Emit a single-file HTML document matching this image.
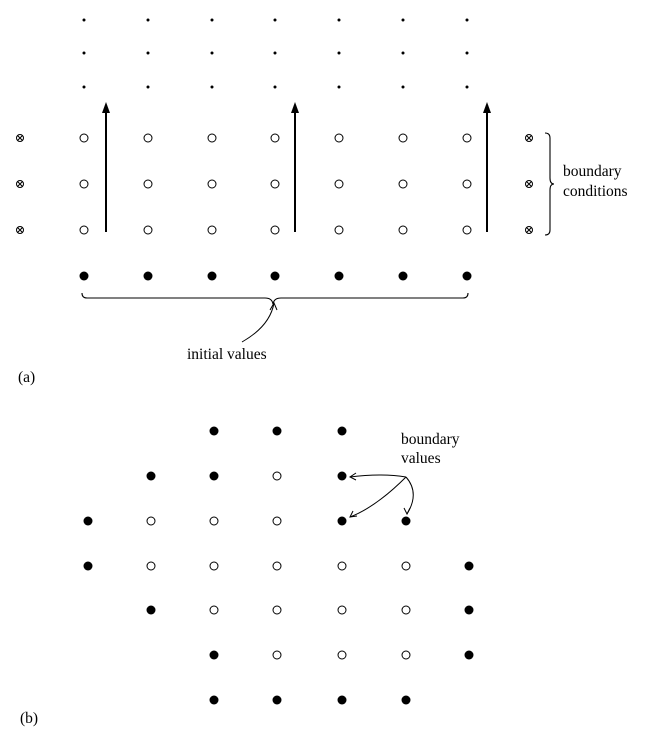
<!DOCTYPE html>
<html><head><style>body{margin:0;background:#fff}svg{display:block}text{font-family:"Liberation Serif","Times New Roman",serif;font-size:15.5px;fill:#000}</style></head>
<body>
<svg width="654" height="745" viewBox="0 0 654 745" xmlns="http://www.w3.org/2000/svg">
<g id="a" fill="#000">
<g>
<circle cx="84" cy="20" r="1.5"/><circle cx="148" cy="20" r="1.5"/><circle cx="212" cy="20" r="1.5"/><circle cx="275" cy="20" r="1.5"/><circle cx="339" cy="20" r="1.5"/><circle cx="403" cy="20" r="1.5"/><circle cx="467" cy="20" r="1.5"/>
<circle cx="84" cy="53" r="1.5"/><circle cx="148" cy="53" r="1.5"/><circle cx="212" cy="53" r="1.5"/><circle cx="275" cy="53" r="1.5"/><circle cx="339" cy="53" r="1.5"/><circle cx="403" cy="53" r="1.5"/><circle cx="467" cy="53" r="1.5"/>
<circle cx="84" cy="87" r="1.5"/><circle cx="148" cy="87" r="1.5"/><circle cx="212" cy="87" r="1.5"/><circle cx="275" cy="87" r="1.5"/><circle cx="339" cy="87" r="1.5"/><circle cx="403" cy="87" r="1.5"/><circle cx="467" cy="87" r="1.5"/>
</g>
<circle cx="84" cy="276" r="4.5"/><circle cx="148" cy="276" r="4.5"/><circle cx="212" cy="276" r="4.5"/><circle cx="275" cy="276" r="4.5"/><circle cx="339" cy="276" r="4.5"/><circle cx="403" cy="276" r="4.5"/><circle cx="467" cy="276" r="4.5"/>
</g>
<g fill="#fff" stroke="#000" stroke-width="1">
<circle cx="84" cy="138" r="4"/><circle cx="148" cy="138" r="4"/><circle cx="212" cy="138" r="4"/><circle cx="275" cy="138" r="4"/><circle cx="339" cy="138" r="4"/><circle cx="403" cy="138" r="4"/><circle cx="467" cy="138" r="4"/>
<circle cx="84" cy="184" r="4"/><circle cx="148" cy="184" r="4"/><circle cx="212" cy="184" r="4"/><circle cx="275" cy="184" r="4"/><circle cx="339" cy="184" r="4"/><circle cx="403" cy="184" r="4"/><circle cx="467" cy="184" r="4"/>
<circle cx="84" cy="230" r="4"/><circle cx="148" cy="230" r="4"/><circle cx="212" cy="230" r="4"/><circle cx="275" cy="230" r="4"/><circle cx="339" cy="230" r="4"/><circle cx="403" cy="230" r="4"/><circle cx="467" cy="230" r="4"/>
</g>
<g fill="none" stroke="#000" stroke-width="1">
<circle cx="20" cy="138" r="3.5"/><path d="M17.5 135.5l5 5M22.5 135.5l-5 5"/>
<circle cx="20" cy="184" r="3.5"/><path d="M17.5 181.5l5 5M22.5 181.5l-5 5"/>
<circle cx="20" cy="230" r="3.5"/><path d="M17.5 227.5l5 5M22.5 227.5l-5 5"/>
<circle cx="529" cy="138" r="3.5"/><path d="M526.5 135.5l5 5M531.5 135.5l-5 5"/>
<circle cx="529" cy="184" r="3.5"/><path d="M526.5 181.5l5 5M531.5 181.5l-5 5"/>
<circle cx="529" cy="230" r="3.5"/><path d="M526.5 227.5l5 5M531.5 227.5l-5 5"/>
<path d="M545 133 q5 0 5 5 v40 q0 6 4 6 q-4 0 -4 6 v40 q0 5 -5 5" stroke-width="1.1"/>
<path d="M82 293 q0 5 5 5 h178 q7 0 8 6 q1 -6 8 -6 h182 q5 0 5 -5" stroke-width="1.1"/>
<path d="M242 342 q28 -16 32 -39" />
<path d="M270 310 l4 -7 l3 7"/>
<path d="M406 477 q-25 -4 -56 0"/><path d="M356 473 l-6 4 l6 3"/>
<path d="M406 477 q-30 30 -56 40"/><path d="M353 511 l-3 6 l7 -1"/>
<path d="M406 477 q14 16 1 37"/><path d="M404 508 l3 6 l3 -6"/>
</g>
<g stroke="#000" stroke-width="2">
<line x1="106" y1="232" x2="106" y2="110"/><line x1="295" y1="232" x2="295" y2="110"/><line x1="487" y1="232" x2="487" y2="110"/>
</g>
<g fill="#000">
<path d="M106 102 l-4 11 h8z"/><path d="M295 102 l-4 11 h8z"/><path d="M487 102 l-4 11 h8z"/>
</g>
<text x="563" y="176">boundary</text>
<text x="563" y="196">conditions</text>
<text x="187" y="359">initial values</text>
<text x="18" y="382">(a)</text>
<text x="401" y="444">boundary</text>
<text x="401" y="463">values</text>
<text x="20" y="723">(b)</text>
<g fill="#000">
<circle cx="214" cy="431" r="4.5"/><circle cx="277" cy="431" r="4.5"/><circle cx="342" cy="431" r="4.5"/>
<circle cx="151" cy="476" r="4.5"/><circle cx="214" cy="476" r="4.5"/><circle cx="342" cy="476" r="4.5"/>
<circle cx="88" cy="521" r="4.5"/><circle cx="342" cy="521" r="4.5"/><circle cx="406" cy="521" r="4.5"/>
<circle cx="88" cy="566" r="4.5"/><circle cx="469" cy="566" r="4.5"/>
<circle cx="151" cy="610" r="4.5"/><circle cx="469" cy="610" r="4.5"/>
<circle cx="214" cy="655" r="4.5"/><circle cx="469" cy="655" r="4.5"/>
<circle cx="214" cy="700" r="4.5"/><circle cx="277" cy="700" r="4.5"/><circle cx="342" cy="700" r="4.5"/><circle cx="406" cy="700" r="4.5"/>
</g>
<g fill="#fff" stroke="#000">
<circle cx="277" cy="476" r="4"/>
<circle cx="151" cy="521" r="4"/><circle cx="214" cy="521" r="4"/><circle cx="277" cy="521" r="4"/>
<circle cx="151" cy="566" r="4"/><circle cx="214" cy="566" r="4"/><circle cx="277" cy="566" r="4"/><circle cx="342" cy="566" r="4"/><circle cx="406" cy="566" r="4"/>
<circle cx="214" cy="610" r="4"/><circle cx="277" cy="610" r="4"/><circle cx="342" cy="610" r="4"/><circle cx="406" cy="610" r="4"/>
<circle cx="277" cy="655" r="4"/><circle cx="342" cy="655" r="4"/><circle cx="406" cy="655" r="4"/>
</g>
</svg>
</body></html>
